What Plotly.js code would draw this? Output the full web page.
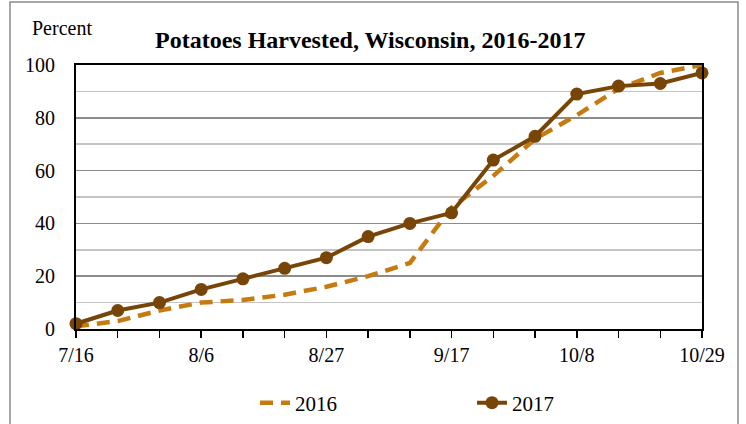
<!DOCTYPE html>
<html>
<head>
<meta charset="utf-8">
<script src="https://cdn.plot.ly/plotly-3.0.1.min.js"></script>
<style>html,body{margin:0;padding:0;background:#fff;}#chart{width:746px;height:424px;}</style>
</head>
<body>
<div id="chart"></div>
<script>
var weeks = ["7/16","7/23","7/30","8/6","8/13","8/20","8/27","9/3","9/10","9/17","9/24","10/1","10/8","10/15","10/22","10/29"];
var tickLabels = ["7/16","","","8/6","","","8/27","","","9/17","","","10/8","","","10/29"];
var pct2016 = [1,3,7,10,11,13,16,20,25,46,58,72,81,91,97,100];
var pct2017 = [2,7,10,15,19,23,27,35,40,44,64,73,89,92,93,97];

var serif = "Liberation Serif";
var traces = [
  {x: weeks, y: pct2016, name: "2016", type: "scatter", mode: "lines", cliponaxis: false,
   line: {color: "#C67B10", width: 4.5, dash: "13px,8px"}},
  {x: weeks, y: pct2017, name: "2017", type: "scatter", mode: "lines+markers", cliponaxis: false,
   line: {color: "#774508", width: 4}, marker: {color: "#774508", size: 13}}
];

var layout = {
  width: 746, height: 424,
  margin: {l: 76, r: 44, t: 65, b: 95},
  paper_bgcolor: "#fff", plot_bgcolor: "#fff",
  font: {family: serif, size: 20, color: "#000"},
  title: {text: "<b>Potatoes Harvested, Wisconsin, 2016-2017</b>", font: {family: serif, size: 24, color: "#000"},
          x: 0.47, xref: "paper", xanchor: "center", y: 0.906, yref: "container", yanchor: "middle"},
  showlegend: true,
  legend: {orientation: "h", xref: "container", x: 255/746, xanchor: "left",
           yref: "container", y: (424-403)/424, yanchor: "middle",
           font: {family: serif, size: 21, color: "#000"}, itemwidth: 30, entrywidth: 172, tracegroupgap: 0},
  xaxis: {type: "category", range: [0, 15], tickmode: "array", tickvals: weeks, ticktext: tickLabels,
          ticks: "outside", ticklen: 7, tickwidth: 1.5, tickcolor: "#000", automargin: false,
          showline: true, linecolor: "#000", linewidth: 2, mirror: true,
          showgrid: false, zeroline: false, tickangle: 0,
          tickfont: {family: serif, size: 20, color: "#000"}},
  yaxis: {range: [0, 100], tickmode: "linear", tick0: 0, dtick: 20, automargin: false,
          showline: true, linecolor: "#000", linewidth: 2, mirror: true,
          showgrid: true, gridcolor: "#8c8c8c", gridwidth: 1.5, zeroline: false,
          minor: {dtick: 10, showgrid: true, gridcolor: "#c4c4c4", gridwidth: 1.5},
          ticks: "", ticklabelstandoff: 15,
          tickfont: {family: serif, size: 20, color: "#000"}},
  annotations: [
    {text: "Percent", xref: "paper", yref: "paper", x: (61.5-76)/626, y: (329-28)/264,
     xanchor: "center", yanchor: "middle", showarrow: false, font: {family: serif, size: 20, color: "#000"}}
  ],
  shapes: [
    {type: "rect", xref: "paper", yref: "paper", x0: (10-76)/626, x1: (738-76)/626,
     y0: (329-430)/264, y1: (329-2)/264, line: {color: "#8a8a8a", width: 1.5}, layer: "below"}
  ]
};

Plotly.newPlot("chart", traces, layout, {displayModeBar: false, staticPlot: true});
</script>
</body>
</html>
